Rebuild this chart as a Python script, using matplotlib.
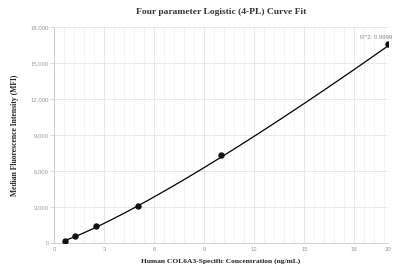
import numpy as np
import matplotlib
matplotlib.use('Agg')
import matplotlib.pyplot as plt
from matplotlib.ticker import MultipleLocator, FuncFormatter

# standard points (ng/mL) and measured MFI
conc = [0.625, 1.25, 2.5, 5, 10, 20]
mfi = [150, 560, 1420, 3100, 7300, 16560]

# 4-PL fit parameters (bottom, slope, inflection, top)
fit_a, fit_b, fit_c, fit_d = -60, 1.2, 900, 1.603e6
r2_text = 'R^2: 0.9999'

x_ticks = [0, 3, 6, 9, 12, 15, 18, 20]
y_ticks = [0, 3000, 6000, 9000, 12000, 15000, 18000]


def four_pl(x):
    return fit_d + (fit_a - fit_d) / (1 + (x / fit_c) ** fit_b)


fig = plt.figure(figsize=(3.94, 2.70), dpi=100)
ax = fig.add_axes([0.138, 0.10, 0.846, 0.80])

xs = np.linspace(conc[0], conc[-1], 200)
ax.plot(xs, four_pl(xs), color='black', lw=0.9, zorder=3)
ax.plot(conc, mfi, 'o', color='#111111', ms=3.6, zorder=4)

ax.set_xlim(0, 20)
ax.set_ylim(0, 18000)
ax.set_xticks(x_ticks)
ax.set_yticks(y_ticks)
ax.xaxis.set_minor_locator(MultipleLocator(0.6))
ax.yaxis.set_major_formatter(FuncFormatter(lambda v, p: f'{int(v):,}'))

ax.grid(which='major', color='#e4e4e4', lw=0.6)
ax.grid(which='minor', axis='x', color='#f0f0f0', lw=0.5)
ax.set_axisbelow(True)

for s in ['top', 'right']:
    ax.spines[s].set_visible(False)
for s in ['left', 'bottom']:
    ax.spines[s].set_color('#c8c8c8')
    ax.spines[s].set_linewidth(0.6)

ax.tick_params(axis='both', which='major', labelsize=4.3, labelcolor='#999999',
               colors='#c8c8c8', width=0.5)
ax.tick_params(axis='y', length=3, pad=1)
ax.tick_params(axis='x', length=0, pad=3)
ax.tick_params(which='minor', length=0)
for lab in ax.get_xticklabels() + ax.get_yticklabels():
    lab.set_fontfamily('Liberation Sans')

serif = 'Liberation Serif'
ax.set_title('Four parameter Logistic (4-PL) Curve Fit', fontsize=6.8,
             fontweight='bold', family=serif, color='#333333', pad=9)
ax.set_xlabel('Human COL6A3-Specific Concentration (ng/mL)', fontsize=5.4,
              fontweight='bold', family=serif, color='#222222', labelpad=4)
ax.set_ylabel('Median Fluorescence Intensity (MFI)', fontsize=5.5,
              fontweight='bold', family=serif, color='#222222', labelpad=8)

# r-squared label sits at the top right corner, kept inside the figure
fig.text(0.997, 1 - 37.5 / 270, r2_text, fontsize=4.3, color='#888888',
         family='Liberation Sans', ha='right', va='center')

fig.savefig('out.png', dpi=100)
